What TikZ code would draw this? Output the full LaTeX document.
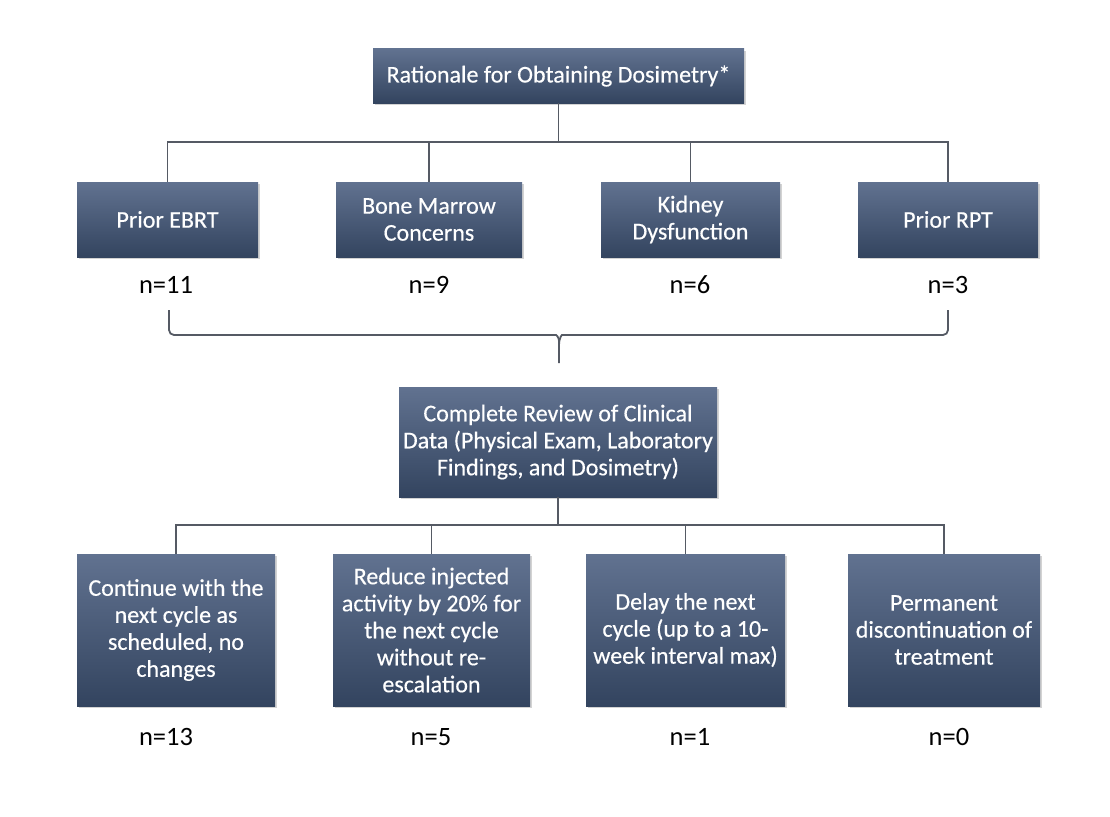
\documentclass[tikz,border=0pt]{standalone}
\usepackage{fontspec}
\setmainfont{Carlito}
\usetikzlibrary{shadows}
\definecolor{boxtop}{HTML}{617290}
\definecolor{boxbot}{HTML}{33445F}
\definecolor{linegray}{HTML}{555A64}
\tikzset{
  bx/.style={rectangle, top color=boxtop, bottom color=boxbot, draw=none,
    text=white, align=center, inner sep=1pt,
    font=\fontsize{24}{27}\selectfont\addfontfeature{FakeBold=0.4},
    drop shadow={shadow xshift=1.5pt, shadow yshift=-2pt, opacity=0.35, fill=gray}},
  cnt/.style={font=\fontsize{26.5}{30}\selectfont, text=black},
  conn/.style={draw=linegray, line width=1.8pt},
}
\begin{document}
\begin{tikzpicture}[x=1pt,y=-1pt]
\useasboundingbox (0,0) rectangle (1110,816);
% top
\node[bx, minimum width=371pt, minimum height=54pt] (top) at (558.5,76) {Rationale for Obtaining Dosimetry*};
% row 2
\node[bx, minimum width=181pt, minimum height=75pt] (ebrt) at (167.5,219.5) {Prior EBRT};
\node[bx, minimum width=186pt, minimum height=75pt] (bone) at (429,219.5) {Bone Marrow\\Concerns};
\node[bx, minimum width=179pt, minimum height=75pt] (kid) at (690.5,219.5) {Kidney\\Dysfunction};
\node[bx, minimum width=180pt, minimum height=75pt] (rpt) at (948,219.5) {Prior RPT};
\node[cnt] (n1) at (166,285) {n=11};
\node[cnt] (n2) at (429,285) {n=9};
\node[cnt] (n3) at (690,285) {n=6};
\node[cnt] (n4) at (948,285) {n=3};
% middle
\node[bx, minimum width=318pt, minimum height=110pt] (mid) at (558,442) {Complete Review of Clinical\\Data (Physical Exam, Laboratory\\Findings, and Dosimetry)};
% bottom
\node[bx, minimum width=198pt, minimum height=152pt] (c1) at (176,630) {Continue with the\\next cycle as\\scheduled, no\\changes};
\node[bx, minimum width=197pt, minimum height=152pt] (c2) at (431.5,630) {Reduce injected\\activity by 20\% for\\the next cycle\\without re-\\escalation};
\node[bx, minimum width=199pt, minimum height=152pt] (c3) at (685.5,630) {Delay the next\\cycle (up to a 10-\\week interval max)};
\node[bx, minimum width=192pt, minimum height=152pt] (c4) at (944,630) {Permanent\\discontinuation of\\treatment};
\node[cnt] (m1) at (166,737) {n=13};
\node[cnt] (m2) at (431,737) {n=5};
\node[cnt] (m3) at (690,737) {n=1};
\node[cnt] (m4) at (949,737) {n=0};
% connectors top
\coordinate (b1) at (558.5,142);
\draw[conn] (top.south) -- (b1);
\draw[conn] (b1) -| (ebrt.north);
\draw[conn] (b1) -| (rpt.north);
\draw[conn] (b1) -| (bone.north);
\draw[conn] (b1) -| (kid.north);
% connectors bottom
\coordinate (b2) at (558,525);
\draw[conn] (mid.south) -- (b2);
\draw[conn] (b2) -| (c1.north);
\draw[conn] (b2) -| (c4.north);
\draw[conn] (b2) -| (c2.north);
\draw[conn] (b2) -| (c3.north);
% brace
\coordinate (bl) at (169,310);
\coordinate (br) at (948,310);
\coordinate (tip) at (559,363);
\draw[conn, rounded corners=5pt] (bl) |- (551,335) .. controls (556,335) and (559,337) .. (559,346) -- (tip);
\draw[conn, rounded corners=5pt] (br) |- (567,335) .. controls (562,335) and (559,337) .. (559,346);
\end{tikzpicture}
\end{document}
